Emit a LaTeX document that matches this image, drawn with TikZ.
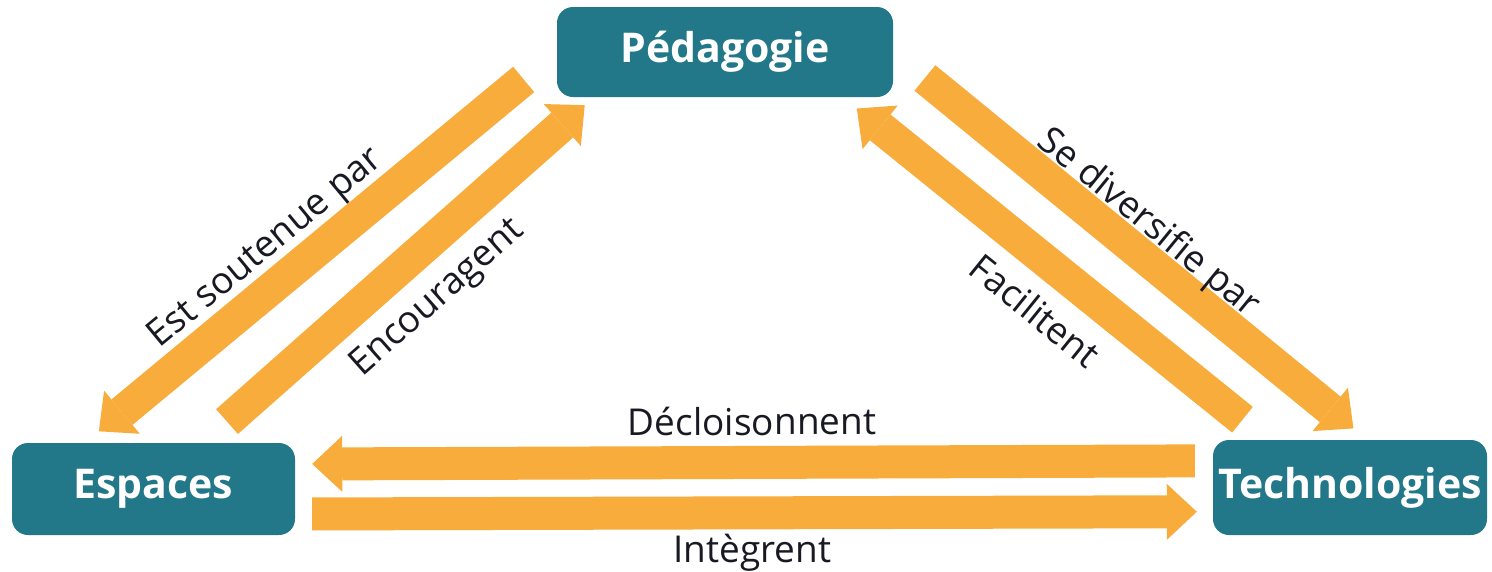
\documentclass[tikz,border=0pt]{standalone}
\usepackage{fontspec}
\setmainfont{Open Sans}
\usetikzlibrary{arrows.meta, positioning}
\definecolor{myteal}{RGB}{34,120,137}
\definecolor{myorange}{RGB}{247,172,60}
\definecolor{mytext}{RGB}{25,25,35}
\tikzset{
  pillar/.style = {rectangle, rounded corners=16pt, fill=myteal, text=white, inner sep=0pt,
                   font=\fontsize{41}{48}\selectfont\bfseries},
  flow/.style = {myorange, line width=33pt, -{Triangle[width=56pt,length=30pt,line width=0pt]}},
  flowlabel/.style = {font=\fontsize{37}{44}\selectfont, text=mytext, sloped, anchor=center,
                      inner sep=24pt, outer sep=0pt}
}

\begin{document}
\begin{tikzpicture}[x=1pt, y=-1pt]
  \useasboundingbox (0,0) rectangle (1492,571);
  \node [pillar, minimum width=336pt, minimum height=90pt] (ped) at (725,52) {Pédagogie};
  \node [pillar, minimum width=283pt, minimum height=92pt] (esp) at (153.5,489) {Espaces};
  \node [pillar, minimum width=274pt, minimum height=95pt] (tech) at (1350,487.5) {Technologies};

  \path [flow]
        (ped.west) edge [shorten <=43pt, shorten >=18pt]
            node[flowlabel, above, pos=0.57, inner sep=16pt] {Est soutenue par} (esp.146)
        (esp.43.5) edge [shorten <=32pt, shorten >=12pt]
            node[flowlabel, below, pos=0.52, inner sep=30pt] {Encouragent} (ped.199);

  \path [flow]
        (ped.east) edge [shorten <=41pt, shorten >=18pt]
            node[flowlabel, above, pos=0.50, inner sep=10pt] {Se diversifie par} (tech.70.7)
        (tech.150.2) edge [shorten <=32pt, shorten >=18pt]
            node[flowlabel, below, pos=0.48, inner sep=31pt] {Facilitent} (ped.339.9);

  \path [flow]
        (tech.169.5) edge [shorten <=18pt, shorten >=17pt]
            node[flowlabel, above, pos=0.502, inner sep=27pt] {Décloisonnent} (esp.10.8)
        (esp.350.8) edge [shorten <=17pt, shorten >=16pt]
            node[flowlabel, below, pos=0.498, inner sep=21pt] {Intègrent} (tech.190.1);
\end{tikzpicture}
\end{document}
